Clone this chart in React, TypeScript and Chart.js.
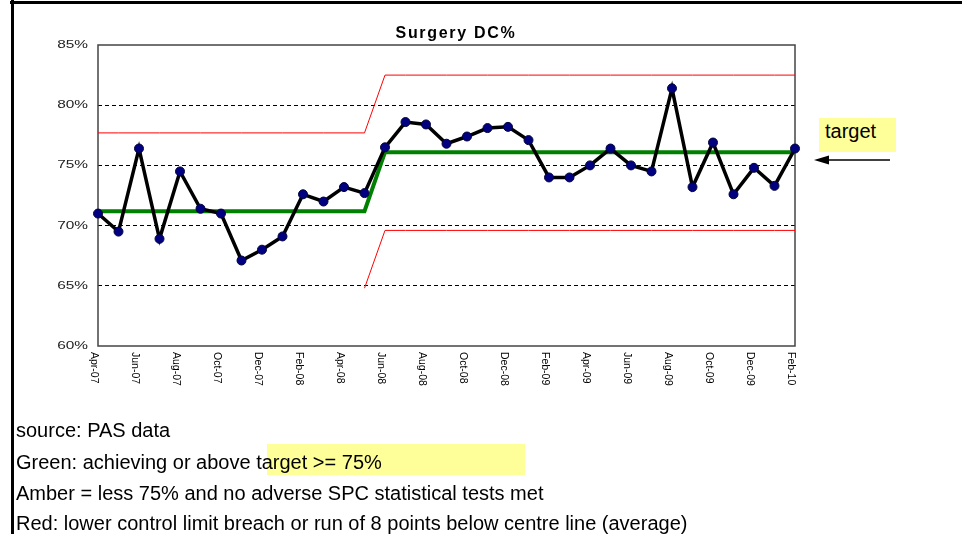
import React, { useEffect, useRef } from 'react';
import { Chart, registerables } from 'chart.js';

Chart.register(...registerables);

const months = [
  'Apr-07', 'May-07', 'Jun-07', 'Jul-07', 'Aug-07', 'Sep-07', 'Oct-07', 'Nov-07', 'Dec-07',
  'Jan-08', 'Feb-08', 'Mar-08', 'Apr-08', 'May-08', 'Jun-08', 'Jul-08', 'Aug-08', 'Sep-08',
  'Oct-08', 'Nov-08', 'Dec-08', 'Jan-09', 'Feb-09', 'Mar-09', 'Apr-09', 'May-09', 'Jun-09',
  'Jul-09', 'Aug-09', 'Sep-09', 'Oct-09', 'Nov-09', 'Dec-09', 'Jan-10', 'Feb-10',
];

const dcPercent = [
  71.0, 69.5, 76.4, 68.9, 74.5, 71.4, 71.0, 67.1, 68.0, 69.1, 72.6, 72.0, 73.2, 72.7,
  76.5, 78.6, 78.4, 76.8, 77.4, 78.1, 78.2, 77.1, 74.0, 74.0, 75.0, 76.4, 75.0, 74.5,
  81.4, 73.2, 76.9, 72.6, 74.8, 73.3, 76.4,
];

const centreLine = [
  71.2, 71.2, 71.2, 71.2, 71.2, 71.2, 71.2, 71.2, 71.2, 71.2, 71.2, 71.2, 71.2, 71.2,
  76.1, 76.1, 76.1, 76.1, 76.1, 76.1, 76.1, 76.1, 76.1, 76.1, 76.1, 76.1, 76.1, 76.1,
  76.1, 76.1, 76.1, 76.1, 76.1, 76.1, 76.1,
];

const upperLimit = [
  77.7, 77.7, 77.7, 77.7, 77.7, 77.7, 77.7, 77.7, 77.7, 77.7, 77.7, 77.7, 77.7, 77.7,
  82.5, 82.5, 82.5, 82.5, 82.5, 82.5, 82.5, 82.5, 82.5, 82.5, 82.5, 82.5, 82.5, 82.5,
  82.5, 82.5, 82.5, 82.5, 82.5, 82.5, 82.5,
];

const lowerLimit: (number | null)[] = [
  null, null, null, null, null, null, null, null, null, null, null, null, null, 64.8,
  69.6, 69.6, 69.6, 69.6, 69.6, 69.6, 69.6, 69.6, 69.6, 69.6, 69.6, 69.6, 69.6, 69.6,
  69.6, 69.6, 69.6, 69.6, 69.6, 69.6, 69.6,
];

const yTicks = [60, 65, 70, 75, 80, 85];
const xTickLabels = [
  'Apr-07', 'Jun-07', 'Aug-07', 'Oct-07', 'Dec-07', 'Feb-08', 'Apr-08', 'Jun-08', 'Aug-08',
  'Oct-08', 'Dec-08', 'Feb-09', 'Apr-09', 'Jun-09', 'Aug-09', 'Oct-09', 'Dec-09', 'Feb-10',
];

const chartTitle = 'Surgery DC%';
const targetLabel = 'target';
const notes = [
  'source: PAS data',
  'Green: achieving or above target >= 75%',
  'Amber = less 75% and no adverse SPC statistical tests met',
  'Red: lower control limit breach or run of 8 points below centre line (average)',
];

const FONT = '"Liberation Sans", Arial, Helvetica, sans-serif';

export default function App() {
  const ref = useRef<HTMLCanvasElement | null>(null);

  useEffect(() => {
    const canvas = ref.current;
    if (!canvas) return;

    const framePlugin = {
      id: 'frame',
      beforeDatasetsDraw(chart: any) {
        const { ctx, chartArea: ca } = chart;
        ctx.save();
        ctx.strokeStyle = '#444';
        ctx.lineWidth = 1.5;
        ctx.strokeRect(ca.left, ca.top, ca.right - ca.left, ca.bottom - ca.top);
        ctx.restore();
      },
      afterDraw(chart: any) {
        const { ctx } = chart;
        const xs = chart.scales.x;
        const ys = chart.scales.y;
        ctx.save();
        ctx.fillStyle = '#222';
        ctx.font = `11px ${FONT}`;
        ctx.textAlign = 'right';
        ctx.textBaseline = 'middle';
        yTicks.forEach((v) => {
          const py = ys.getPixelForValue(v);
          ctx.save();
          ctx.translate(88, py);
          ctx.scale(1.4, 1);
          ctx.fillText(v + '%', 0, 0);
          ctx.restore();
        });
        ctx.fillStyle = '#000';
        ctx.font = `10.5px ${FONT}`;
        ctx.textAlign = 'left';
        ctx.textBaseline = 'middle';
        xTickLabels.forEach((lab) => {
          const idx = months.indexOf(lab);
          const px = xs.getPixelForValue(idx);
          ctx.save();
          ctx.translate(px - 4, 352);
          ctx.rotate(Math.PI / 2);
          ctx.fillText(lab, 0, 0);
          ctx.restore();
        });
        ctx.restore();
      },
    };

    const chart = new Chart(canvas, {
      type: 'line',
      data: {
        labels: months,
        datasets: [
          {
            label: 'DC%',
            data: dcPercent,
            borderColor: '#000',
            borderWidth: 3.5,
            pointRadius: 4.5,
            pointBackgroundColor: '#000080',
            pointBorderColor: '#00003a',
            pointBorderWidth: 1,
            tension: 0,
            clip: false as any,
          },
          {
            label: 'Centre',
            data: centreLine,
            borderColor: '#008000',
            borderWidth: 4,
            pointRadius: 0,
            tension: 0,
            clip: false as any,
          },
          {
            label: 'UCL',
            data: upperLimit,
            borderColor: '#ff0000',
            borderWidth: 1,
            pointRadius: 0,
            tension: 0,
            clip: false as any,
          },
          {
            label: 'LCL',
            data: lowerLimit,
            borderColor: '#ff0000',
            borderWidth: 1,
            pointRadius: 0,
            tension: 0,
            spanGaps: false,
            clip: false as any,
          },
        ],
      },
      options: {
        animation: false,
        responsive: false,
        maintainAspectRatio: false,
        layout: { padding: { top: 45, right: 167, left: 0, bottom: 0 } },
        plugins: {
          legend: { display: false },
          tooltip: { enabled: false },
          title: { display: false },
        },
        scales: {
          x: {
            type: 'category',
            offset: false,
            grid: { display: false },
            border: { display: false },
            ticks: { display: false },
            afterFit: (s: any) => {
              s.height = 54;
            },
          },
          y: {
            min: 60,
            max: 85,
            ticks: { stepSize: 5, display: false },
            grid: {
              drawTicks: false,
              lineWidth: 1,
              color: (c: any) =>
                c.tick && (c.tick.value === 60 || c.tick.value === 85) ? 'rgba(0,0,0,0)' : '#000',
            },
            border: { display: false, dash: [4, 3] },
            afterFit: (s: any) => {
              s.width = 98;
            },
          },
        },
      },
      plugins: [framePlugin],
    } as any);

    return () => chart.destroy();
  }, []);

  const noteTops = [420, 452, 483, 513];

  return (
    <div
      style={{
        position: 'fixed',
        left: 0,
        top: 0,
        width: 962,
        height: 534,
        overflow: 'hidden',
        background: '#fff',
        fontFamily: FONT,
      }}
    >
      <canvas
        ref={ref}
        width={962}
        height={400}
        style={{ position: 'absolute', left: 0, top: 0, width: 962, height: 400, display: 'block' }}
      />
      <div
        style={{
          position: 'absolute',
          left: 356,
          top: 25,
          width: 200,
          textAlign: 'center',
          font: `bold 16px ${FONT}`,
          lineHeight: '16px',
          letterSpacing: '1.7px',
          color: '#000',
          whiteSpace: 'nowrap',
        }}
      >
        {chartTitle}
      </div>
      <div
        style={{
          position: 'absolute',
          left: 819,
          top: 118,
          width: 77,
          height: 34,
          background: '#ffff99',
        }}
      />
      <div
        style={{
          position: 'absolute',
          left: 825,
          top: 121,
          font: `20px ${FONT}`,
          lineHeight: '20px',
          color: '#000',
        }}
      >
        {targetLabel}
      </div>
      <svg
        width={962}
        height={534}
        style={{ position: 'absolute', left: 0, top: 0, pointerEvents: 'none' }}
      >
        <line x1={826} y1={160} x2={890} y2={160} stroke="#000" strokeWidth={1.5} />
        <polygon points="814,160 829,155.5 829,164.5" fill="#000" />
      </svg>
      <div
        style={{
          position: 'absolute',
          left: 267,
          top: 444,
          width: 258,
          height: 31,
          background: '#ffff99',
        }}
      />
      {notes.map((t, i) => (
        <div
          key={i}
          style={{
            position: 'absolute',
            left: 16,
            top: noteTops[i],
            font: `20px ${FONT}`,
            lineHeight: '20px',
            color: '#000',
            whiteSpace: 'nowrap',
          }}
        >
          {t}
        </div>
      ))}
      <div style={{ position: 'absolute', left: 10, top: 1, width: 952, height: 3, background: '#000' }} />
      <div style={{ position: 'absolute', left: 11, top: 0, width: 3, height: 534, background: '#000' }} />
    </div>
  );
}
